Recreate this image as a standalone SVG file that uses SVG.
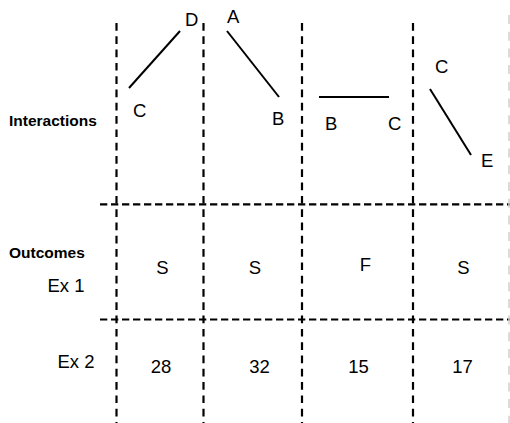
<svg xmlns="http://www.w3.org/2000/svg" width="510" height="423" viewBox="0 0 510 423">
<style>
.vd{stroke:#000;stroke-width:2.2;stroke-dasharray:7.7 5.6;fill:none}
.hd{stroke:#000;stroke-width:2.2;stroke-dasharray:7.3 3.7;fill:none}
.ed{stroke:#000;stroke-width:2;fill:none}
.lb{font-family:"Liberation Sans",Arial,sans-serif;font-size:18.5px;fill:#000}
.hb{font-family:"Liberation Sans",Arial,sans-serif;font-size:15.5px;font-weight:bold;fill:#000}
.m{text-anchor:middle}
</style>
<rect width="510" height="423" fill="#fff"/>
<g id="grid">
<line class="vd" x1="116.5" y1="23" x2="116.5" y2="423"/>
<line class="vd" x1="203.5" y1="23" x2="203.5" y2="423"/>
<line class="vd" x1="302" y1="23" x2="302" y2="423"/>
<line class="vd" x1="413" y1="23" x2="413" y2="423"/>
<line class="hd" x1="100" y1="204.3" x2="510" y2="204.3"/>
<line class="hd" x1="100" y1="319.5" x2="510" y2="319.5"/>
<line x1="509" y1="15" x2="509" y2="423" stroke="#cfcfcf" stroke-width="1.5" stroke-dasharray="9 7.7"/>
</g>
<g id="row-labels">
<text class="hb" x="9" y="126">Interactions</text>
<text class="hb" x="9" y="258">Outcomes</text>
<text class="lb" x="47.5" y="291.5">Ex 1</text>
<text class="lb" x="57.5" y="368">Ex 2</text>
</g>
<g id="connectors">
<line class="ed" x1="129" y1="88" x2="180" y2="31"/>
<line class="ed" x1="227" y1="31" x2="279" y2="97"/>
<line class="ed" x1="319" y1="97" x2="389" y2="97"/>
<line class="ed" x1="430" y1="89" x2="471" y2="155"/>
</g>
<g id="node-D"><text class="lb" x="185" y="26">D</text></g>
<g id="node-C1"><text class="lb" x="133" y="117">C</text></g>
<g id="node-A"><text class="lb" x="227" y="23">A</text></g>
<g id="node-B1"><text class="lb" x="272" y="125">B</text></g>
<g id="node-B2"><text class="lb" x="325" y="130">B</text></g>
<g id="node-C2"><text class="lb" x="388" y="130">C</text></g>
<g id="node-C3"><text class="lb" x="435" y="73">C</text></g>
<g id="node-E"><text class="lb" x="481" y="167">E</text></g>
<g id="outcomes-ex1">
<text class="lb m" x="162.5" y="274">S</text>
<text class="lb m" x="255" y="274">S</text>
<text class="lb m" x="365.5" y="271">F</text>
<text class="lb m" x="463.5" y="274">S</text>
</g>
<g id="outcomes-ex2">
<text class="lb m" x="161" y="373">28</text>
<text class="lb m" x="259.5" y="373">32</text>
<text class="lb m" x="358.5" y="373">15</text>
<text class="lb m" x="462.5" y="373">17</text>
</g>
</svg>
